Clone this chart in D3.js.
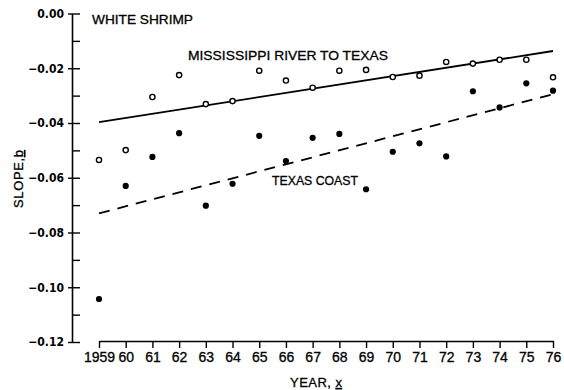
<!DOCTYPE html>
<html>
<head>
<meta charset="utf-8">
<script src="https://cdn.jsdelivr.net/npm/d3@7"></script>
<style>
  body { margin: 0; background: #fff; }
  svg { display: block; font-family: "Liberation Sans", sans-serif; }
</style>
</head>
<body>
<svg id="chart" width="564" height="390"></svg>
<script>
const years = d3.range(1959, 1977);
const yearLabels = ["1959", "60", "61", "62", "63", "64", "65", "66", "67", "68", "69", "70", "71", "72", "73", "74", "75", "76"];

// open circles
const mississippi = [-0.0535, -0.0499, -0.0305, -0.0225, -0.0331, -0.0320, -0.0209, -0.0245, -0.0271,
  -0.0209, -0.0206, -0.0232, -0.0227, -0.0177, -0.0183, -0.0169, -0.0169, -0.0233];
// filled dots
const texas = [-0.1043, -0.0630, -0.0524, -0.0437, -0.0702, -0.0622, -0.0447, -0.0539, -0.0454,
  -0.0440, -0.0642, -0.0505, -0.0474, -0.0522, -0.0284, -0.0343, -0.0255, -0.0282];

// fitted lines, end points
const mississippiFit = [[1959, -0.0397], [1976, -0.0137]];
const texasFit = [[1959, -0.0730], [1976, -0.0295]];

const majorTicks = [0, -0.02, -0.04, -0.06, -0.08, -0.10, -0.12];
const minorTicks = d3.range(0, 13).map(i => -i / 100);

const svg = d3.select("#chart");

const x = d3.scaleLinear().domain([1959, 1976]).range([99, 553]);
const y = d3.scaleLinear().domain([0, -0.12]).range([13.5, 342]);
const axisX = 72;

// y axis: minor ticks pointing in, major ticks crossing
const yMinor = svg.append("g")
  .attr("transform", `translate(${axisX},0)`)
  .call(d3.axisRight(y).tickValues(minorTicks).tickSize(8).tickSizeOuter(0).tickFormat(""));
const yMajor = svg.append("g")
  .attr("transform", `translate(${axisX},0)`)
  .call(d3.axisLeft(y).tickValues(majorTicks).tickSize(4).tickSizeOuter(0).tickPadding(4)
    .tickFormat(d => (d === 0 ? "0.00" : "\u2212" + d3.format(".2f")(-d))));
yMajor.select(".domain").remove();
yMinor.select(".domain").attr("stroke-width", 1.6);
svg.selectAll("g .tick line").attr("stroke-width", 1.4);
yMajor.selectAll("text")
  .style("font-family", "'DejaVu Sans Condensed', sans-serif")
  .style("font-weight", "bold")
  .style("font-size", "12px")
  .attr("fill", "#000");

// x axis
const xAxis = svg.append("g")
  .attr("transform", "translate(0,341)")
  .call(d3.axisBottom(x).tickValues(years).tickSize(7).tickSizeOuter(0).tickPadding(4)
    .tickFormat((d, i) => yearLabels[i]));
xAxis.select(".domain").attr("stroke-width", 1.6);
xAxis.selectAll(".tick line").attr("stroke-width", 1.4);
xAxis.selectAll("text")
  .style("font-family", "'Liberation Sans', sans-serif")
  .style("font-size", "14px")
  .attr("fill", "#000")
  .attr("stroke", "#000")
  .attr("stroke-width", 0.3);

// fitted lines
const line = d3.line().x(d => x(d[0])).y(d => y(d[1]));
svg.append("path").datum(mississippiFit).attr("d", line)
  .attr("fill", "none").attr("stroke", "#000").attr("stroke-width", 1.8);
svg.append("path").datum(texasFit).attr("d", line)
  .attr("fill", "none").attr("stroke", "#000").attr("stroke-width", 1.8)
  .attr("stroke-dasharray", "11,8");

// points
svg.append("g").selectAll("circle")
  .data(mississippi)
  .join("circle")
  .attr("cx", (d, i) => x(years[i]))
  .attr("cy", d => y(d))
  .attr("r", 2.6)
  .attr("fill", "#fff")
  .attr("stroke", "#000")
  .attr("stroke-width", 1.4);

svg.append("g").selectAll("circle")
  .data(texas)
  .join("circle")
  .attr("cx", (d, i) => x(years[i]))
  .attr("cy", d => y(d))
  .attr("r", 3.1)
  .attr("fill", "#000");

// labels
function label(txt, xPos, yPos, size, len) {
  const t = svg.append("text")
    .attr("x", xPos).attr("y", yPos)
    .style("font-family", "'Liberation Sans', sans-serif")
    .style("font-size", size + "px")
    .attr("fill", "#000")
    .attr("stroke", "#000")
    .attr("stroke-width", 0.3)
    .text(txt);
  if (len) t.attr("textLength", len).attr("lengthAdjust", "spacingAndGlyphs");
  return t;
}
label("WHITE SHRIMP", 92, 24, 13, 101);
label("MISSISSIPPI RIVER TO TEXAS", 188, 60, 13.5, 200);
label("TEXAS COAST", 272, 185, 13.5, 86);

// x title
const xt = svg.append("text")
  .attr("x", 290).attr("y", 387)
  .attr("textLength", 52)
  .style("font-family", "'Liberation Sans', sans-serif")
  .style("font-size", "13px")
  .attr("fill", "#000")
  .attr("stroke", "#000")
  .attr("stroke-width", 0.3);
xt.append("tspan").text("YEAR, ");
xt.append("tspan").attr("text-decoration", "underline").text("x");

// y title
const yt = svg.append("text")
  .attr("transform", "translate(23,208) rotate(-90)")
  .attr("textLength", 58)
  .style("font-family", "'Liberation Sans', sans-serif")
  .style("font-size", "13px")
  .attr("fill", "#000")
  .attr("stroke", "#000")
  .attr("stroke-width", 0.3);
yt.append("tspan").text("SLOPE,");
yt.append("tspan").attr("text-decoration", "underline").text("b");
</script>
</body>
</html>
